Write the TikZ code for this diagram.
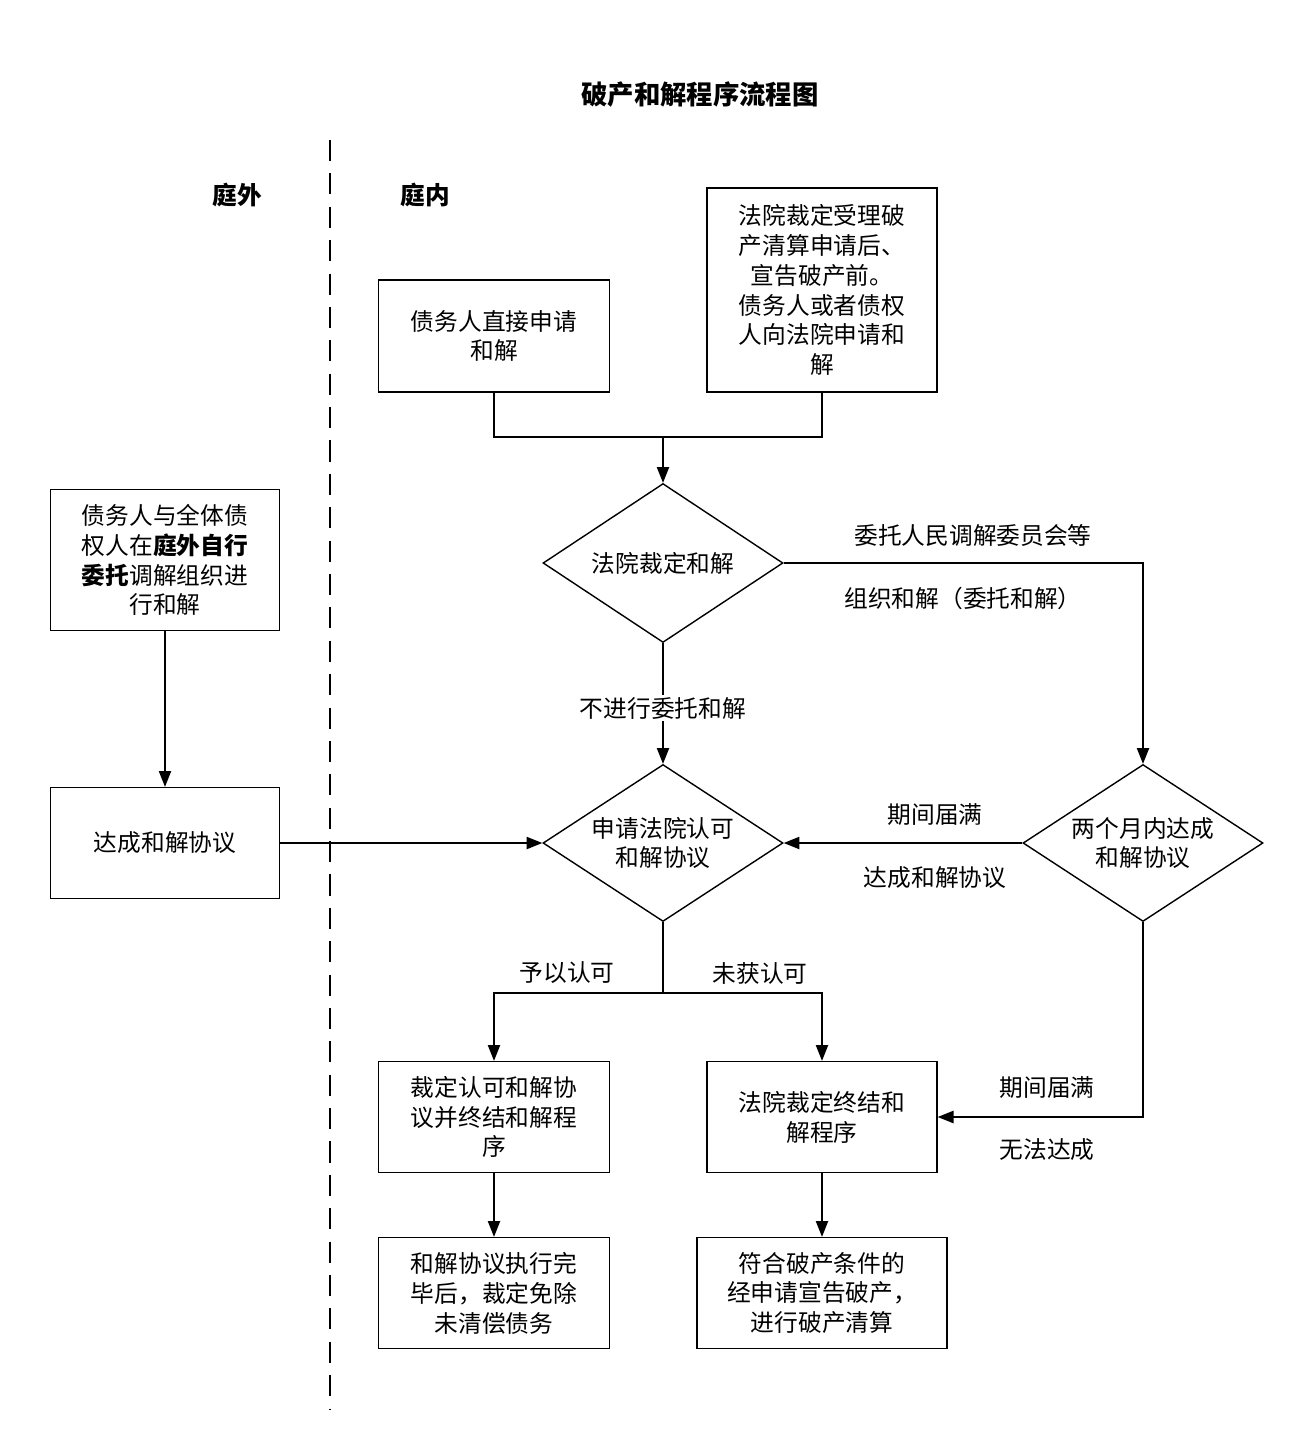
\documentclass[tikz,border=0pt]{standalone}
\usepackage{fontspec}
\setmainfont{Noto Sans CJK SC}
\usetikzlibrary{arrows.meta,shapes.geometric,positioning}
\tikzset{
  box/.style={draw, thick, align=center, inner sep=2pt},
  choice/.style={draw, thick, diamond, align=center, aspect=1.5, inner sep=0pt},
  flow/.style={thick, -{Triangle[length=9pt,width=7pt]}},
  lbl/.style={font=\fontsize{13.5pt}{17pt}\selectfont}
}
\begin{document}
\begin{tikzpicture}[x=0.02cm, y=-0.02cm, font=\fontsize{13.5pt}{17pt}\selectfont]
    \useasboundingbox (0,0) rectangle (1313,1438);
    % title and lanes
    \node[font=\fontsize{15pt}{18pt}\selectfont\bfseries] (title) at (700,95) {破产和解程序流程图};
    \draw[thick, dash pattern=on 12pt off 7pt] (330,140) -- (330,1410);
    \node[font=\fontsize{14pt}{17pt}\selectfont\bfseries] (out) at (237,195) {庭外};
    \node[font=\fontsize{14pt}{17pt}\selectfont\bfseries] (in) at (425,195) {庭内};

    % boxes
    \node[box, minimum width=231\pgflinewidth*0+4.62cm, minimum height=2.24cm] (direct) at (494,336) {债务人直接申请\\和解};
    \node[box, minimum width=4.6cm, minimum height=4.08cm] (court) at (822,290) {法院裁定受理破\\产清算申请后、\\宣告破产前。\\债务人或者债权\\人向法院申请和\\解};
    \node[box, minimum width=4.58cm, minimum height=2.82cm] (self) at (165,560) {债务人与全体债\\权人在\textbf{庭外自行}\\\textbf{委托}调解组织进\\行和解};
    \node[box, minimum width=4.58cm, minimum height=2.22cm] (reach) at (165,843) {达成和解协议};
    \node[box, minimum width=4.62cm, minimum height=2.22cm] (approve) at (494,1117) {裁定认可和解协\\议并终结和解程\\序};
    \node[box, minimum width=4.6cm, minimum height=2.22cm] (endp) at (822,1117) {法院裁定终结和\\解程序};
    \node[box, minimum width=4.62cm, minimum height=2.22cm] (exempt) at (494,1293) {和解协议执行完\\毕后，裁定免除\\未清偿债务};
    \node[box, minimum width=5cm, minimum height=2.22cm] (bankrupt) at (822,1293) {符合破产条件的\\经申请宣告破产，\\进行破产清算};

    % diamonds
    \node[choice, minimum width=4.8cm, minimum height=3.18cm] (rule) at (663,563) {法院裁定和解};
    \node[choice, minimum width=4.8cm, minimum height=3.14cm] (apply) at (663,843) {申请法院认可\\和解协议};
    \node[choice, minimum width=4.8cm, minimum height=3.14cm] (twomon) at (1143,843) {两个月内达成\\和解协议};

    % connectors
    \coordinate (merge) at (663,437);
    \draw[thick] (direct.south) |- (merge) -| (court.south);
    \draw[flow] (merge) -- (rule.north);
    \draw[flow] (rule.east) -| (twomon.north);
    \node[lbl] (entrust1) at (973,535) {委托人民调解委员会等};
    \node[lbl] (entrust2) at (963,598) {组织和解（委托和解）};
    \draw[flow] (rule.south) -- (apply.north);
    \node[lbl, fill=white, inner sep=1pt] (noentrust) at (663,708) {不进行委托和解};
    \draw[flow] (twomon.west) -- (apply.east);
    \node[lbl] (exp1) at (935,815) {期间届满};
    \node[lbl] (ok1) at (935,878) {达成和解协议};
    \draw[flow] (self.south) -- (reach.north);
    \draw[flow] (reach.east) -- (apply.west);
    \coordinate (split) at (663,993);
    \draw[thick] (apply.south) -- (split);
    \draw[flow] (split) -| (approve.north);
    \draw[flow] (split) -| (endp.north);
    \node[lbl] (yes) at (567,973) {予以认可};
    \node[lbl] (no) at (760,973) {未获认可};
    \draw[flow] (twomon.south) |- (endp.east);
    \node[lbl] (exp2) at (1047,1088) {期间届满};
    \node[lbl] (fail) at (1047,1150) {无法达成};
    \draw[flow] (approve.south) -- (exempt.north);
    \draw[flow] (endp.south) -- (bankrupt.north);
\end{tikzpicture}
\end{document}
